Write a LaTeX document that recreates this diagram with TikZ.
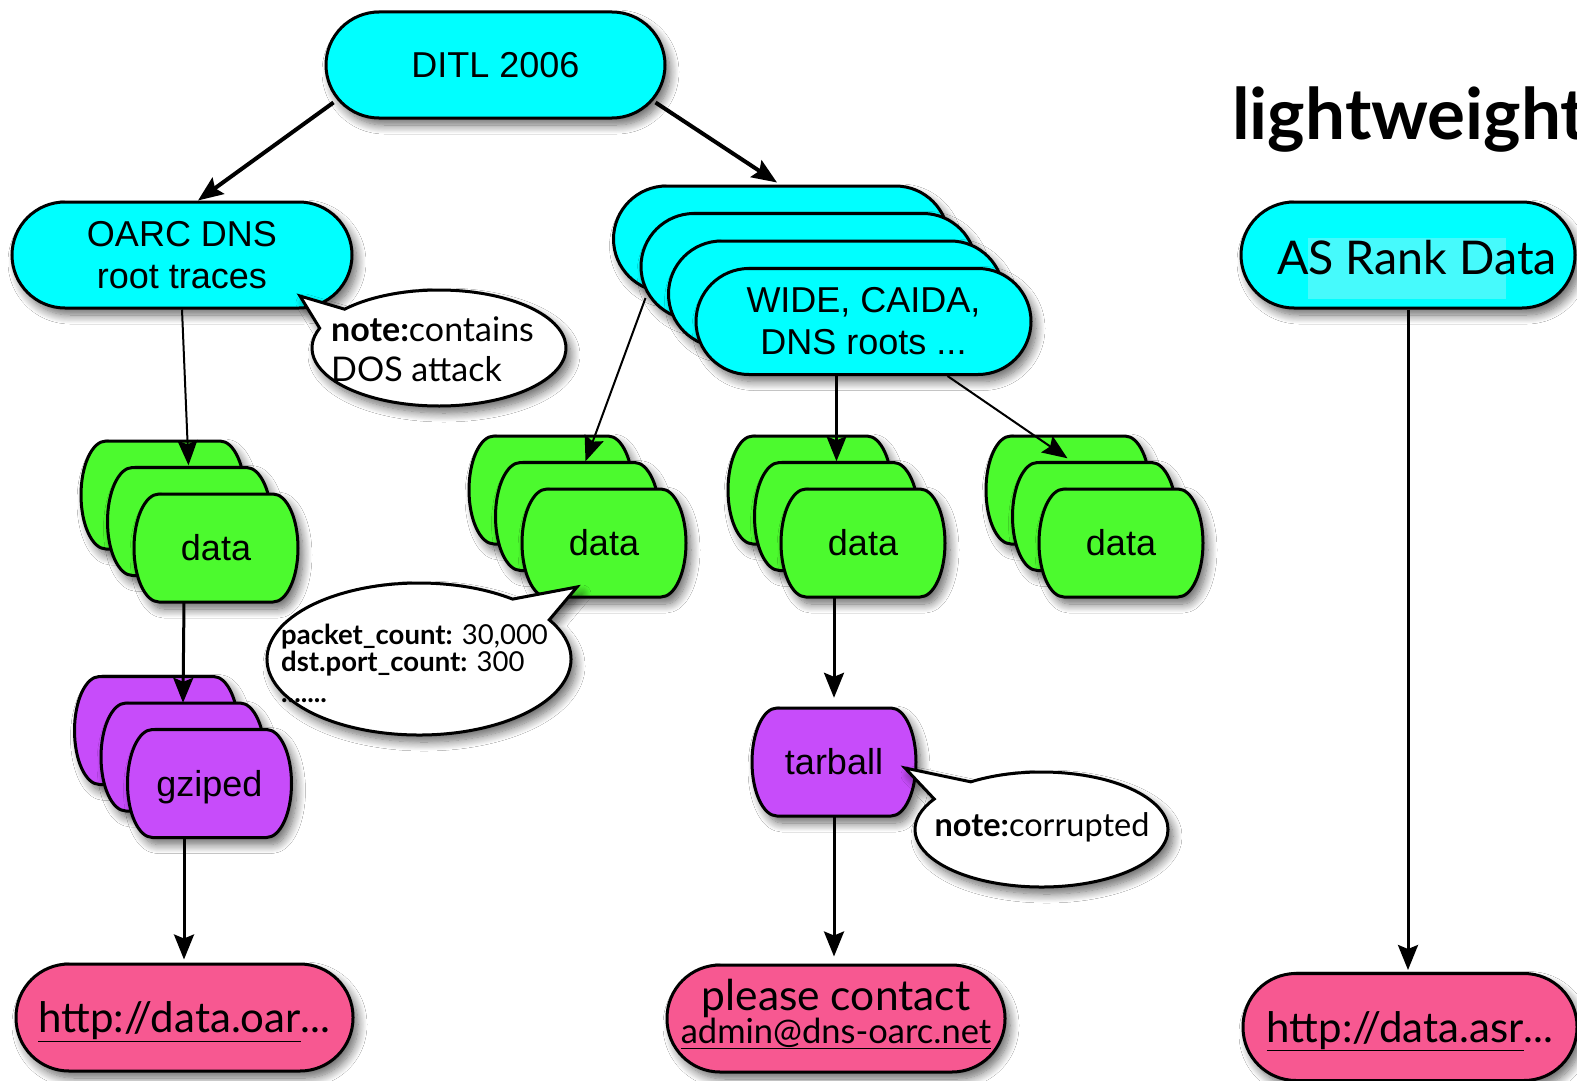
\documentclass[tikz,border=0pt]{standalone}
\usepackage{fontspec}
\setmainfont{Liberation Sans}
\newfontfamily\gill{Lato}
\usetikzlibrary{arrows.meta,calc,shadows.blur}
\definecolor{cyanbox}{RGB}{0,255,255}
\definecolor{greenbox}{RGB}{76,250,46}
\definecolor{purplebox}{RGB}{199,76,250}
\definecolor{pinkbox}{RGB}{247,88,145}
\definecolor{hilite}{RGB}{70,250,252}
\tikzset{
  shad/.style={blur shadow={shadow xshift=5pt, shadow yshift=-7pt, shadow blur radius=9pt, shadow blur steps=12, shadow opacity=60}},
  stadium/.style={rectangle, rounded corners=53pt, draw=black, line width=3pt, fill=cyanbox,
    minimum width=#1, minimum height=106pt, inner sep=0pt, shad, align=center,
    font=\fontsize{36}{42}\selectfont},
  stadium/.default=335,
  barrelpath/.style={draw=black, line width=3pt, shad},
  barrelnode/.style={minimum width=164pt, minimum height=108pt, inner sep=0pt, font=\fontsize{36}{42}\selectfont},
  callout/.style={draw=black, line width=3pt, fill=white, shad},
  notetext/.style={inner sep=0pt, font=\gill\fontsize{33}{40}\selectfont},
  urlbox/.style={stadium=#1, minimum height=107pt, fill=pinkbox, text height=30pt, text depth=0pt,
    font=\gill\fontsize{42}{48}\selectfont},
  arr/.style={-{Stealth[length=25pt,width=20pt,inset=4pt]}, line width=#1, draw=black}
}
\newcommand\barrel[5]{%
  \path[barrelpath, fill=#4] ({#2-57},{#3-54}) -- ({#2+57},{#3-54})
     arc[start angle=-90, end angle=90, x radius=25, y radius=54]
     -- ({#2-57},{#3+54})
     arc[start angle=90, end angle=270, x radius=25, y radius=54] -- cycle;
  \node[barrelnode] (#1) at (#2,#3) {#5};}
\begin{document}
\begin{tikzpicture}[x=1pt,y=-1pt]
\useasboundingbox (0,0) rectangle (1577,1081);
\clip (0,0) rectangle (1577,1081);
\fill[white] (0,0) rectangle (1577,1081);

% top level
\node[stadium=339] (ditl) at (495.5,65) {DITL 2006};
\node[stadium=340] (oarc) at (182,255) {OARC DNS\\root traces};
\node[stadium] (w1) at (781,239) {};
\node[stadium] (w2) at (808.5,266.5) {};
\node[stadium] (w3) at (836,294) {};
\node[stadium] (w4) at (863.5,321.5) {WIDE, CAIDA,\\DNS roots ...};

% data stacks
\barrel{d1a}{163}{495}{greenbox}{}
\barrel{d1b}{189.5}{521.5}{greenbox}{}
\barrel{d1}{216}{548}{greenbox}{data}
\barrel{d2a}{551}{490}{greenbox}{}
\barrel{d2b}{577.5}{516.5}{greenbox}{}
\barrel{d2}{604}{543}{greenbox}{data}
\barrel{d3a}{810}{490}{greenbox}{}
\barrel{d3b}{836.5}{516.5}{greenbox}{}
\barrel{d3}{863}{543}{greenbox}{data}
\barrel{d4a}{1068}{490}{greenbox}{}
\barrel{d4b}{1094.5}{516.5}{greenbox}{}
\barrel{d4}{1121}{543}{greenbox}{data}

% purple
\barrel{g1}{156.5}{730.5}{purplebox}{}
\barrel{g2}{183}{757}{purplebox}{}
\barrel{g3}{209.5}{783.5}{purplebox}{\raisebox{0pt}[\height][0pt]{gziped}}
\barrel{tar}{834}{762}{purplebox}{tarball}

% pink endpoints
\node[urlbox=337] (url1) at (184.5,1017.5) {\underline{http://data.oar}...};
\node[stadium=338, minimum height=107pt, fill=pinkbox] (please) at (836,1018.5) {};
\node[inner sep=0pt, align=center, font=\gill\fontsize{42.5}{33}\selectfont] (pleasetext) at (836,1014) {please contact\\{\fontsize{34.5}{33}\selectfont\underline{admin@dns-oarc.net}}};

% right column
\node[anchor=base west, inner sep=0pt, font=\gill\bfseries\fontsize{71}{80}\selectfont] (title) at (1232,139) {lightweight};
\node[stadium=334] (asrank) at (1408,255) {};
\fill[hilite] (1308,238) rectangle (1506,299);
\node[inner sep=0pt, font=\gill\fontsize{46.5}{50}\selectfont] (asranktext) at (1417,258) {AS Rank Data};
\node[urlbox=334] (asrurl) at (1410,1027) {\underline{http://data.asr}...};

% callouts
\path[callout] ($(439,348)+(222:127 and 58)$) arc[start angle=222,end angle=560,x radius=127,y radius=58] -- (300,296) -- cycle;
\node[notetext, anchor=west, align=left, font=\gill\fontsize{34}{40}\selectfont] (n1) at (331,349) {\textbf{note:}contains\\DOS attack};
\path[callout] ($(419,659)+(329:152 and 76)$) arc[start angle=329,end angle=668,x radius=152,y radius=76] -- (577,587) -- cycle;
\node[notetext, anchor=west, align=left, font=\gill\fontsize{27.5}{27}\selectfont] (n2) at (281,663) {\textbf{packet\_count:} 30,000\\\textbf{dst.port\_count:} 300\\[4pt]\textbf{.......}};
\path[callout] ($(1041.5,829.5)+(236:126.5 and 57.5)$) arc[start angle=236,end angle=572,x radius=126.5,y radius=57.5] -- (905,768) -- cycle;
\node[notetext, font=\gill\fontsize{32.5}{40}\selectfont] (n3) at (1042,827) {\textbf{note:}corrupted};

% connectors
\draw[arr=4pt] ($(ditl.south west)+(9,-17)$) -- ($(oarc.north)+(16,0)$);
\draw[arr=4pt] ($(ditl.south east)+(-11,-17)$) -- ($(w1.north)+(-4,-2)$);
\draw[arr=2pt] (oarc.south) -- ($(d1b.north)+(-1,-2)$);
\draw[arr=2pt] ($(w2.south west)+(6,-23)$) -- ($(d2b.north)+(8,-1)$);
\draw[arr=2.5pt] ($(w4.south)+(-27,0)$) -- ($(d3b.north)+(0,-1)$);
\draw[arr=2pt] ($(w4.south)+(84,0)$) -- ($(d4b.north)+(-27,-4)$);
\draw[arr=3pt] ($(d1.south)+(-32,0)$) -- (g2.north);
\draw[arr=3pt] ($(g3.south)+(-25.5,0)$) -- ($(url1.north)+(-0.5,-3)$);
\draw[arr=3pt] ($(d3.south)+(-29,0)$) -- ($(tar.north)+(0,-10)$);
\draw[arr=3pt] (tar.south) -- ($(please.north)+(-2,-7)$);
\draw[arr=3pt] (asrank.south) -- ($(asrurl.north)+(-2,-2)$);
\end{tikzpicture}
\end{document}
